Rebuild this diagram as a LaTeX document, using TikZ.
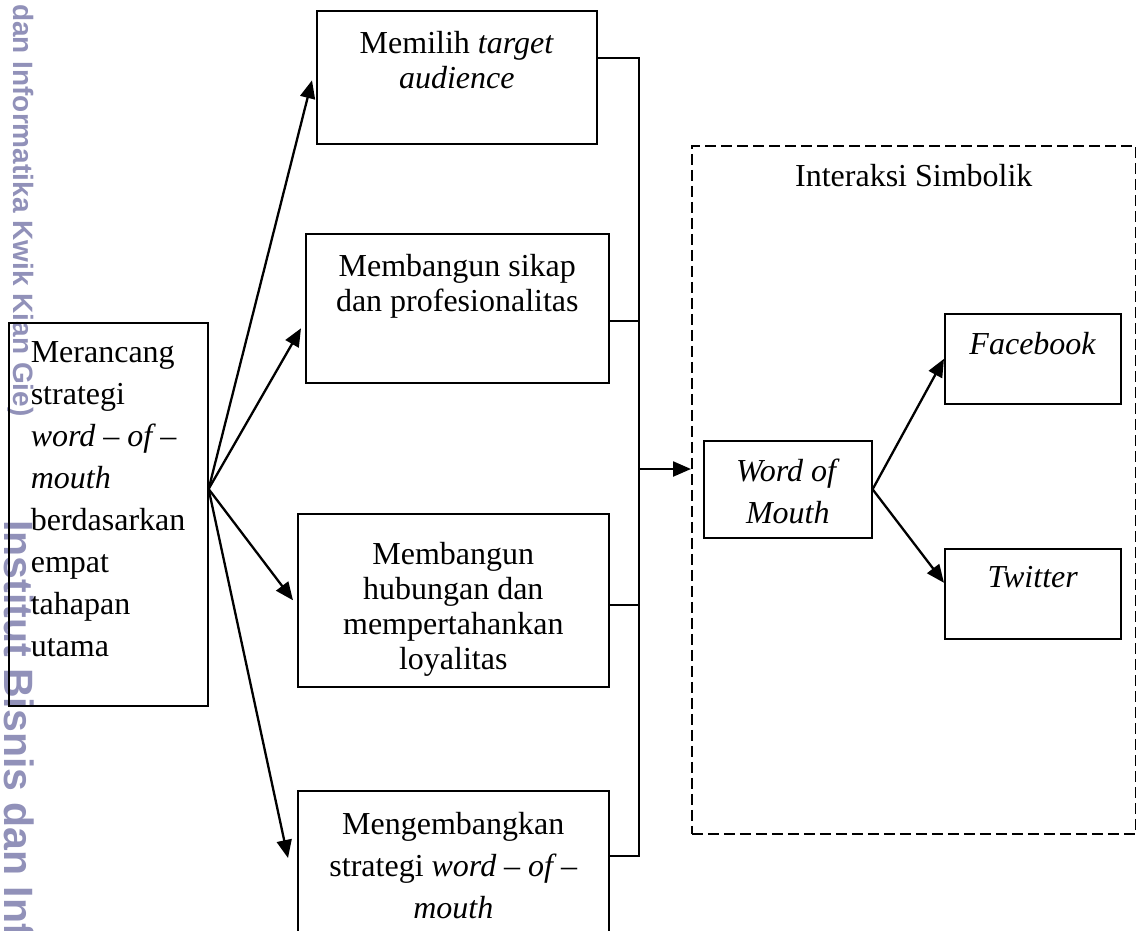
\documentclass[tikz,border=0pt]{standalone}
\usepackage{fontspec}
\setmainfont{Liberation Serif}
\newfontfamily\wmfont{Liberation Sans}
\usetikzlibrary{arrows.meta,calc}

\definecolor{wmgray}{RGB}{145,145,185}

% text box with the text set at the top: width, height, top gap, text
\newcommand{\boxtext}[4]{\parbox[c][#2][t]{#1}{\centering\vspace*{#3}#4}}

\begin{document}
\begin{tikzpicture}[x=1pt, y=-1pt, font=\fontsize{32}{35}\selectfont]
  \tikzstyle{boxed} = [draw, line width=1.6pt, inner sep=0pt, anchor=north west]
  \tikzstyle{loose} = [font=\fontsize{32}{42}\selectfont]
  \tikzstyle{groupbox} = [draw, dash pattern=on 11pt off 5pt, line width=1.6pt, inner sep=0pt, anchor=north west]
  \tikzstyle{arrowline} = [line width=2.3pt, -{Triangle[length=18pt,width=15pt]}]
  \tikzstyle{bracketline} = [line width=1.6pt]
  \tikzstyle{wmark} = [text=wmgray, rotate=-90, anchor=base west, inner sep=0pt]

  \useasboundingbox (0,0) rectangle (1136,930);
  \clip (0,0) rectangle (1136,930);

  % watermark
  \node [wmark, font=\wmfont\bfseries\fontsize{28}{28}\selectfont] (wmtop) at (13,4) {dan Informatika Kwik Kian Gie)};
  \node [wmark, font=\wmfont\bfseries\fontsize{41}{41}\selectfont] (wmbottom) at (5,520) {Institut Bisnis dan Info};

  % left box
  \node [boxed, loose] (merancang) at (8,322) {\parbox[c][383pt][t]{199pt}{\vspace*{19pt}\raggedright\leftskip=22pt\relax
    Merancang\\ strategi\\ \textit{word -- of --}\\ \textit{mouth}\\ berdasarkan\\ empat\\ tahapan\\ utama}};

  % four stages
  \node [boxed] (memilih) at (316,10) {\boxtext{280pt}{133pt}{20pt}{Memilih \textit{target}\\ \textit{audience}}};
  \node [boxed] (sikap) at (305,233) {\boxtext{303pt}{149pt}{20pt}{Membangun sikap\\ dan profesionalitas}};
  \node [boxed] (loyal) at (297,513) {\boxtext{311pt}{173pt}{28pt}{Membangun\\ hubungan dan\\ mempertahankan\\ loyalitas}};
  \node [boxed, loose] (strategi) at (297,790) {\boxtext{311pt}{142pt}{21pt}{Mengembangkan\\ strategi \textit{word -- of --}\\ \textit{mouth}}};

  % symbolic interaction
  \node [groupbox, minimum width=444pt, minimum height=688pt] (interaksi) at (691,145) {};
  \node (judul) at ($(interaksi.north)+(0,31)$) {Interaksi Simbolik};
  \node [boxed, loose] (wom) at (703,440) {\boxtext{168pt}{97pt}{18pt}{\textit{Word of}\\ \textit{Mouth}}};
  \node [boxed] (facebook) at (944,313) {\boxtext{176pt}{90pt}{18pt}{\textit{Facebook}}};
  \node [boxed] (twitter) at (944,548) {\boxtext{176pt}{90pt}{18pt}{\textit{Twitter}}};

  % fan out
  \coordinate (fan) at ($(merancang.north east)+(0,167)$);
  \draw [arrowline] (fan) -- ($(memilih.west)+(-4,3)$);
  \draw [arrowline] (fan) -- ($(sikap.west)+(-4,20)$);
  \draw [arrowline] (fan) -- ($(loyal.west)+(-4,0)$);
  \draw [arrowline] (fan) -- ($(strategi.north west)+(-9,68)$);

  % bracket
  \coordinate (j1) at (639,58);
  \coordinate (j2) at (639,321);
  \coordinate (j3) at (639,605);
  \coordinate (j4) at (639,856);
  \coordinate (jout) at (639,469);
  \draw [bracketline] (memilih.east |- j1) -- (j1) -- (j4) -- (strategi.east |- j4);
  \draw [bracketline] (sikap.east |- j2) -- (j2);
  \draw [bracketline] (loyal.east |- j3) -- (j3);
  \draw [arrowline] (jout) -- (jout -| interaksi.west);

  \draw [arrowline] (wom.east) -- (facebook.west);
  \draw [arrowline] (wom.east) -- ($(twitter.west)+(0,-11)$);
\end{tikzpicture}
\end{document}
